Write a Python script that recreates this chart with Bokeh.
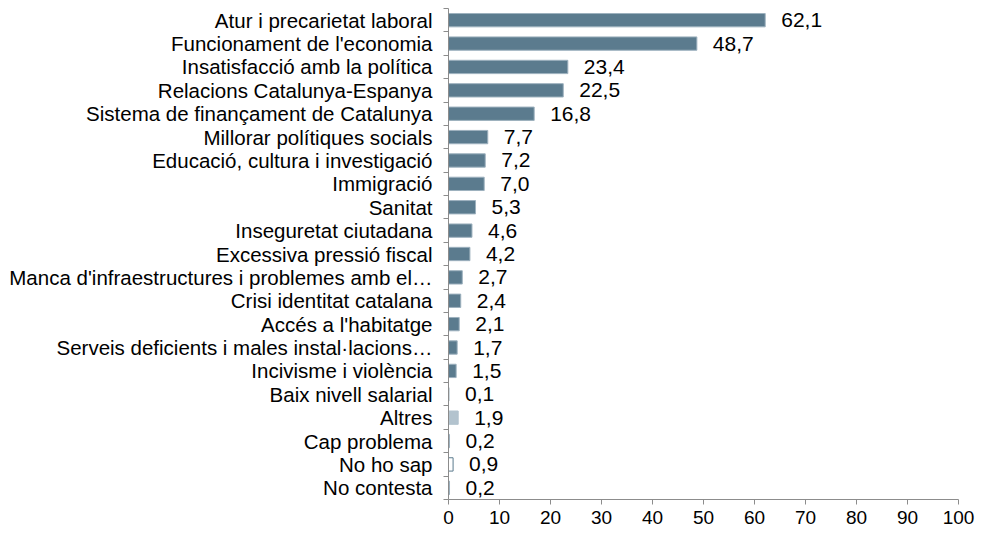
from bokeh.plotting import figure
from bokeh.models import ColumnDataSource, Range1d, FixedTicker
from bokeh.core.properties import value
from bokeh.embed import file_html
from bokeh.resources import INLINE

categories = ["Atur i precarietat laboral", "Funcionament de l'economia",
              "Insatisfacció amb la política", "Relacions Catalunya-Espanya",
              "Sistema de finançament de Catalunya", "Millorar polítiques socials",
              "Educació, cultura i investigació", "Immigració", "Sanitat",
              "Inseguretat ciutadana", "Excessiva pressió fiscal",
              "Manca d'infraestructures i problemes amb el…",
              "Crisi identitat catalana", "Accés a l'habitatge",
              "Serveis deficients i males instal·lacions…",
              "Incivisme i violència", "Baix nivell salarial", "Altres",
              "Cap problema", "No ho sap", "No contesta"]
values = [62.1, 48.7, 23.4, 22.5, 16.8, 7.7, 7.2, 7.0, 5.3, 4.6, 4.2,
          2.7, 2.4, 2.1, 1.7, 1.5, 0.1, 1.9, 0.2, 0.9, 0.2]
x_ticks = [0, 10, 20, 30, 40, 50, 60, 70, 80, 90, 100]

n = len(categories)
ypos = [n - 1 - i for i in range(n)]
labels = [f"{v:.1f}".replace(".", ",") for v in values]

main = "#5b7b8e"
fills = [main] * n
lines = ["#9db1be"] * n
fills[categories.index("Altres")] = "#b3c3ce"
lines[categories.index("Altres")] = "#b3c3ce"
fills[categories.index("Cap problema")] = "#b3c3ce"
fills[categories.index("No ho sap")] = "#ffffff"
lines[categories.index("No ho sap")] = main

src = ColumnDataSource(dict(y=ypos, v=values, lab=labels, fill=fills, line=lines))

p = figure(width=982, height=534, output_backend="svg", toolbar_location=None,
           x_range=Range1d(0, 100), y_range=Range1d(-0.5, n - 0.5),
           min_border_left=448, min_border_right=24, min_border_top=8,
           min_border_bottom=35)
p.outline_line_color = None
p.xgrid.grid_line_color = None
p.ygrid.grid_line_color = None

p.hbar(y="y", right="v", left=0, height=0.57, fill_color="fill",
       line_color="line", line_width=1, source=src)
p.text(x="v", y="y", text="lab", x_offset=16, text_baseline="middle",
       text_font=value("Liberation Sans"), text_font_size="21px",
       text_color="#000000", source=src)

# x axis
p.xaxis.ticker = FixedTicker(ticks=x_ticks)
p.xaxis.axis_line_color = "#8c8c8c"
p.xaxis.major_tick_line_color = "#8c8c8c"
p.xaxis.major_tick_out = 5
p.xaxis.major_tick_in = 0
p.xaxis.minor_tick_line_color = None
p.xaxis.major_label_text_font = "Liberation Sans"
p.xaxis.major_label_text_font_size = "19px"
p.xaxis.major_label_text_color = "#000000"
p.xaxis.major_label_standoff = 6

# y axis: labels at centres, ticks at boundaries
bounds = [i - 0.5 for i in range(n + 1)]
p.yaxis.ticker = FixedTicker(ticks=ypos, minor_ticks=bounds)
p.yaxis.major_label_overrides = {y: c for y, c in zip(ypos, categories)}
p.yaxis.axis_line_color = "#8c8c8c"
p.yaxis.major_tick_line_color = None
p.yaxis.major_tick_out = 0
p.yaxis.major_tick_in = 0
p.yaxis.minor_tick_line_color = "#8c8c8c"
p.yaxis.minor_tick_out = 5
p.yaxis.minor_tick_in = 0
p.yaxis.major_label_text_font = "Liberation Sans"
p.yaxis.major_label_text_font_size = "20.5px"
p.yaxis.major_label_text_color = "#000000"
p.yaxis.major_label_standoff = 11

open("out.html", "w").write(file_html(p, INLINE))
